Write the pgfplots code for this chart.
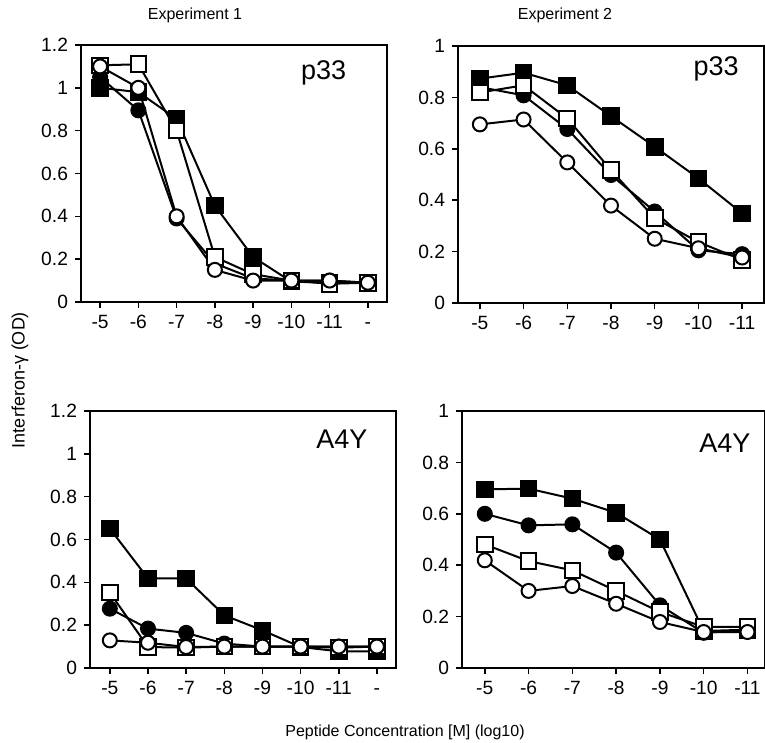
\documentclass[border=0pt]{standalone}
\usepackage{pgfplots}
\pgfplotsset{compat=1.18}
\usepackage{fontspec}
\setmainfont{Liberation Sans}
\pgfplotsset{
 panel/.style={scale only axis, anchor=north west, width=153pt, height=128.5pt,
  ymin=0, axis line style={line width=0.75pt}, tick align=outside,
  major tick length=3pt, every tick/.style={black,line width=0.75pt},
  xtick pos=left, ytick pos=left, xtick={0,1,2,3,4,5,6,7},
  tick label style={font=\fontsize{9.6}{11}\selectfont},
  /pgf/number format/assume math mode=true,
  every axis plot/.append style={black, line width=1pt, mark options={solid, line width=1pt}}},
 fsq/.style={mark=square*, mark size=3.9pt, mark options={fill=black}},
 osq/.style={mark=square*, mark size=3.9pt, mark options={fill=white}},
 fci/.style={mark=*, mark size=3.5pt, mark options={fill=black}},
 oci/.style={mark=*, mark size=3.5pt, mark options={fill=white}}
}
\tikzset{lbl/.style={font=\fontsize{13.5}{15}\selectfont, anchor=east}}
\begin{document}
\begin{tikzpicture}
\useasboundingbox (0,0) rectangle (382.5pt,-371.5pt);
% Experiment 1, p33
\begin{axis}[panel, at={(40.5pt,-22.5pt)}, xmin=-0.5, xmax=7.5, ymax=1.2,
 xticklabels={-5,-6,-7,-8,-9,-10,-11,\vphantom{0}-},
 ytick={0,0.2,0.4,0.6,0.8,1,1.2}, yticklabels={0,0.2,0.4,0.6,0.8,1,1.2}]
\addplot[fsq] coordinates {(0,1.0) (1,0.98) (2,0.855) (3,0.45) (4,0.21) (5,0.095) (6,0.09) (7,0.09)};
\addplot[fci] coordinates {(0,1.05) (1,0.895) (2,0.39) (3,0.18) (4,0.11) (5,0.10) (6,0.10) (7,0.09)};
\addplot[osq] coordinates {(0,1.105) (1,1.11) (2,0.80) (3,0.21) (4,0.13) (5,0.10) (6,0.085) (7,0.09)};
\addplot[oci] coordinates {(0,1.10) (1,1.0) (2,0.40) (3,0.15) (4,0.10) (5,0.10) (6,0.10) (7,0.09)};
\node[lbl] at (rel axis cs:0.89,0.89) {p33};
\end{axis}
% Experiment 2, p33
\begin{axis}[panel, at={(229pt,-23pt)}, xmin=-0.5, xmax=6.5, ymax=1,
 xticklabels={-5,-6,-7,-8,-9,-10,-11},
 ytick={0,0.2,0.4,0.6,0.8,1}, yticklabels={0,0.2,0.4,0.6,0.8,1}]
\addplot[fsq] coordinates {(0,0.873) (1,0.896) (2,0.847) (3,0.727) (4,0.608) (5,0.485) (6,0.349)};
\addplot[fci] coordinates {(0,0.84) (1,0.808) (2,0.677) (3,0.498) (4,0.356) (5,0.205) (6,0.19)};
\addplot[osq] coordinates {(0,0.819) (1,0.847) (2,0.718) (3,0.517) (4,0.33) (5,0.237) (6,0.168)};
\addplot[oci] coordinates {(0,0.695) (1,0.714) (2,0.547) (3,0.379) (4,0.25) (5,0.213) (6,0.177)};
\node[lbl] at (rel axis cs:0.94,0.91) {p33};
\end{axis}
% Experiment 1, A4Y
\begin{axis}[panel, at={(45pt,-205.5pt)}, xmin=-0.52, xmax=7.5, ymax=1.2,
 xticklabels={-5,-6,-7,-8,-9,-10,-11,\vphantom{0}-},
 ytick={0,0.2,0.4,0.6,0.8,1,1.2}, yticklabels={0,0.2,0.4,0.6,0.8,1,1.2}]
\addplot[fsq] coordinates {(0,0.651) (1,0.418) (2,0.418) (3,0.246) (4,0.176) (5,0.098) (6,0.078) (7,0.078)};
\addplot[fci] coordinates {(0,0.277) (1,0.184) (2,0.164) (3,0.114) (4,0.10) (5,0.10) (6,0.10) (7,0.10)};
\addplot[osq] coordinates {(0,0.352) (1,0.098) (2,0.095) (3,0.10) (4,0.10) (5,0.10) (6,0.095) (7,0.10)};
\addplot[oci] coordinates {(0,0.129) (1,0.118) (2,0.098) (3,0.10) (4,0.10) (5,0.10) (6,0.10) (7,0.10)};
\node[lbl] at (rel axis cs:0.93,0.89) {A4Y};
\end{axis}
% Experiment 2, A4Y
\begin{axis}[panel, at={(231pt,-205.5pt)}, width=151.5pt, xmin=-0.52, xmax=6.4, ymax=1,
 xticklabels={-5,-6,-7,-8,-9,-10,-11},
 ytick={0,0.2,0.4,0.6,0.8,1}, yticklabels={0,0.2,0.4,0.6,0.8,1}]
\addplot[fsq] coordinates {(0,0.695) (1,0.698) (2,0.659) (3,0.604) (4,0.50) (5,0.144) (6,0.149)};
\addplot[fci] coordinates {(0,0.60) (1,0.555) (2,0.559) (3,0.449) (4,0.244) (5,0.137) (6,0.147)};
\addplot[osq] coordinates {(0,0.481) (1,0.416) (2,0.38) (3,0.30) (4,0.218) (5,0.16) (6,0.16)};
\addplot[oci] coordinates {(0,0.419) (1,0.30) (2,0.319) (3,0.25) (4,0.179) (5,0.14) (6,0.14)};
\node[lbl] at (rel axis cs:0.975,0.875) {A4Y};
\end{axis}
\node[font=\fontsize{8}{9}\selectfont] at (97.5pt,-7.5pt) {Experiment 1};
\node[font=\fontsize{8}{9}\selectfont] at (282.5pt,-7.5pt) {Experiment 2};
\node[font=\fontsize{9}{10}\selectfont, rotate=90] at (10pt,-190pt) {Interferon-γ (OD)};
\node[font=\fontsize{8}{9}\selectfont] at (202.5pt,-366pt) {Peptide Concentration [M] (log10)};
\end{tikzpicture}
\end{document}
